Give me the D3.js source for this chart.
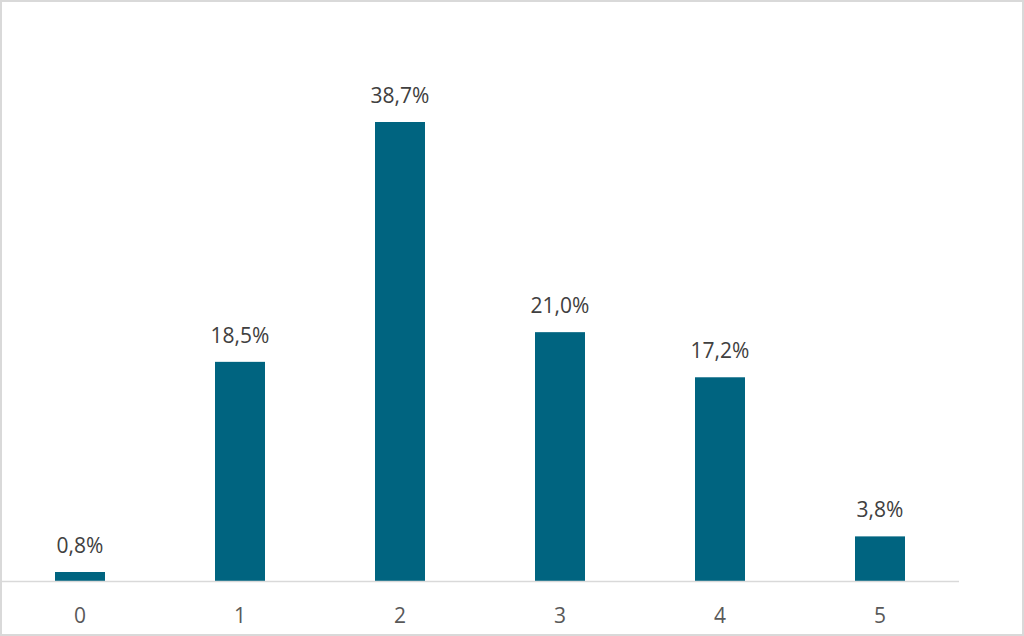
<!DOCTYPE html>
<html><head><meta charset="utf-8">
<script src="https://cdn.jsdelivr.net/npm/d3@7"></script>
<style>html,body{margin:0;padding:0;background:#fff;}svg{display:block;}</style>
</head><body>
<svg id="c" width="1024" height="636"></svg>
<script>
const categories = ["0","1","2","3","4","5"];
const values = [0.8, 18.5, 38.7, 21.0, 17.2, 3.8];
const labels = ["0,8%","18,5%","38,7%","21,0%","17,2%","3,8%"];

const svg = d3.select("#c");
svg.append("rect").attr("x",1).attr("y",1).attr("width",1022).attr("height",634)
  .attr("fill","#fff").attr("stroke","#d9d9d9").attr("stroke-width",2);

const x = d3.scaleBand().domain(categories).range([0,960]).paddingInner(0.6875).paddingOuter(0.34375);
const y = d3.scaleLinear().domain([0,45]).range([581.5,47.2]);

svg.selectAll("rect.bar").data(values).enter().append("rect")
  .attr("class","bar")
  .attr("x",(d,i)=>x(categories[i]))
  .attr("width",x.bandwidth())
  .attr("y",d=>y(d))
  .attr("height",d=>y(0)-y(d))
  .attr("fill","#006480");

svg.append("line").attr("x1",2).attr("x2",959).attr("y1",581.5).attr("y2",581.5)
  .attr("stroke","#d9d9d9").attr("stroke-width",1.5);

svg.selectAll("text.lab").data(values).enter().append("text")
  .attr("class","lab")
  .attr("x",(d,i)=>x(categories[i])+x.bandwidth()/2)
  .attr("y",d=>y(d)-19)
  .attr("text-anchor","middle")
  .attr("font-family","'Open Sans', sans-serif")
  .attr("font-size",21)
  .attr("fill","#404040")
  .text((d,i)=>labels[i]);

const ax = svg.append("g").attr("transform","translate(0,581.5)")
  .call(d3.axisBottom(x).tickSize(0).tickPadding(0));
ax.select(".domain").remove();
ax.selectAll("text")
  .attr("y",41.5).attr("dy",null)
  .attr("font-family","'Open Sans', sans-serif")
  .attr("font-size",21)
  .attr("fill","#595959");
</script>
</body></html>
